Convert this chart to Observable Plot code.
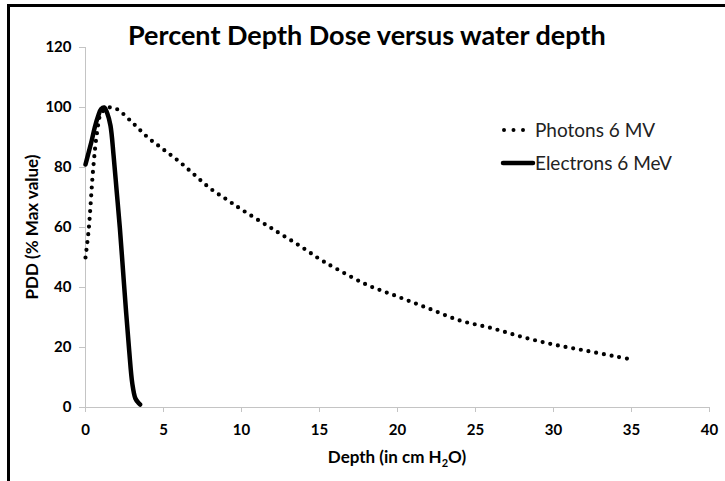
<!DOCTYPE html>
<html><head><meta charset="utf-8">
<script src="https://cdn.jsdelivr.net/npm/d3@7"></script>
<script src="https://cdn.jsdelivr.net/npm/@observablehq/plot@0.6"></script>
<style>
body{margin:0;background:#fff;}
#wrap{position:relative;width:725px;height:481px;overflow:hidden;background:#fff;font-family:Lato,"Open Sans",sans-serif;}
#wrap svg{position:absolute;left:0;top:0;}
</style>
</head><body>
<div id="wrap"></div>
<script>
// Photons 6 MV
const photonDepth = [0, 0.2, 0.5, 0.75, 1.0, 1.5, 2, 3, 4, 5, 6, 7, 8, 9, 10, 12, 14, 15, 16, 18, 20, 22, 24, 26, 28, 30, 32, 34, 35];
const photonPDD   = [50, 59, 80, 92, 98, 100, 99.5, 95, 90, 86, 82, 77.5, 73, 69.5, 66, 59.5, 53, 49.5, 46.5, 41, 37, 33, 29, 26.5, 23.5, 21, 19, 17, 16];
// Electrons 6 MeV
const electronDepth = [0, 0.2, 0.4, 0.6, 0.8, 1.0, 1.2, 1.4, 1.6, 1.8, 2.0, 2.2, 2.4, 2.6, 2.8, 3.0, 3.2, 3.4, 3.5];
const electronPDD   = [81, 85, 89, 93.5, 97, 99.5, 100, 98, 94, 84, 72, 60, 46, 32, 19, 8, 3, 1.5, 1];

const xTicks = [0, 5, 10, 15, 20, 25, 30, 35, 40];
const yTicks = [0, 20, 40, 60, 80, 100, 120];

const titleText = "Percent Depth Dose versus water depth";
const yLabel = "PDD (% Max value)";
const seriesNames = ["Photons 6 MV", "Electrons 6 MeV"];

const photons = photonDepth.map((d, i) => ({depth: d, pdd: photonPDD[i]}));
const electrons = electronDepth.map((d, i) => ({depth: d, pdd: electronPDD[i]}));

const gray = "#c4c4c4";
const chart = Plot.plot({
  width: 725,
  height: 481,
  marginLeft: 85,
  marginRight: 16,
  marginTop: 47,
  marginBottom: 74,
  style: {fontFamily: "Lato, 'Open Sans', sans-serif", background: "transparent", overflow: "visible"},
  x: {domain: [0, 40]},
  y: {domain: [0, 120]},
  marks: [
    Plot.ruleX([0], {stroke: gray, strokeWidth: 1}),
    Plot.ruleY([0], {stroke: gray, strokeWidth: 1}),
    Plot.axisX({ticks: xTicks, tickSize: 5, tickPadding: 12, stroke: gray, fill: "#000", fontSize: 15, fontWeight: "bold", label: null, tickFormat: d => String(d)}),
    Plot.axisY({ticks: yTicks, tickSize: 6, tickPadding: 8, stroke: gray, fill: "#000", fontSize: 15, fontWeight: "bold", label: null, tickFormat: d => String(d)}),
    Plot.line(photons, {x: "depth", y: "pdd", stroke: "#000", strokeWidth: 4.2, strokeDasharray: "0 7.8", strokeLinecap: "round", curve: "catmull-rom"}),
    Plot.line(electrons, {x: "depth", y: "pdd", stroke: "#000", strokeWidth: 4.5, strokeLinejoin: "round", strokeLinecap: "round", curve: "catmull-rom"})
  ]
});
const wrap = document.getElementById("wrap");
wrap.appendChild(chart);

// overlay: frame, title, axis titles, legend
const ov = d3.select(wrap).append("svg").attr("width", 725).attr("height", 481)
  .style("font-family", "Lato, 'Open Sans', sans-serif");
ov.append("path").attr("d", "M8.5,481V5.5H725").attr("fill", "none").attr("stroke", "#000").attr("stroke-width", 3);
ov.append("text").attr("x", 128).attr("y", 45).attr("text-anchor", "start")
  .attr("font-size", 27).attr("font-weight", "bold").attr("fill", "#000").text(titleText);
const xl = ov.append("text").attr("x", 397).attr("y", 463).attr("text-anchor", "middle")
  .attr("font-size", 17).attr("font-weight", "bold").attr("fill", "#000");
xl.append("tspan").text("Depth (in cm H");
xl.append("tspan").attr("font-size", 11).attr("dy", 4).text("2");
xl.append("tspan").attr("dy", -4).text("O)");
ov.append("text").attr("transform", "translate(38,227) rotate(-90)").attr("text-anchor", "middle")
  .attr("font-size", 17).attr("font-weight", "bold").attr("fill", "#000").text(yLabel);
// legend
ov.append("line").attr("x1", 504).attr("x2", 524).attr("y1", 130).attr("y2", 130)
  .attr("stroke", "#000").attr("stroke-width", 4).attr("stroke-linecap", "round").attr("stroke-dasharray", "0 9.5");
ov.append("text").attr("x", 535).attr("y", 137).attr("font-size", 19).attr("fill", "#222").text(seriesNames[0]);
ov.append("line").attr("x1", 503).attr("x2", 533).attr("y1", 163).attr("y2", 163)
  .attr("stroke", "#000").attr("stroke-width", 4.5).attr("stroke-linecap", "round");
ov.append("text").attr("x", 535).attr("y", 170).attr("font-size", 19).attr("fill", "#222").text(seriesNames[1]);
</script>
</body></html>
